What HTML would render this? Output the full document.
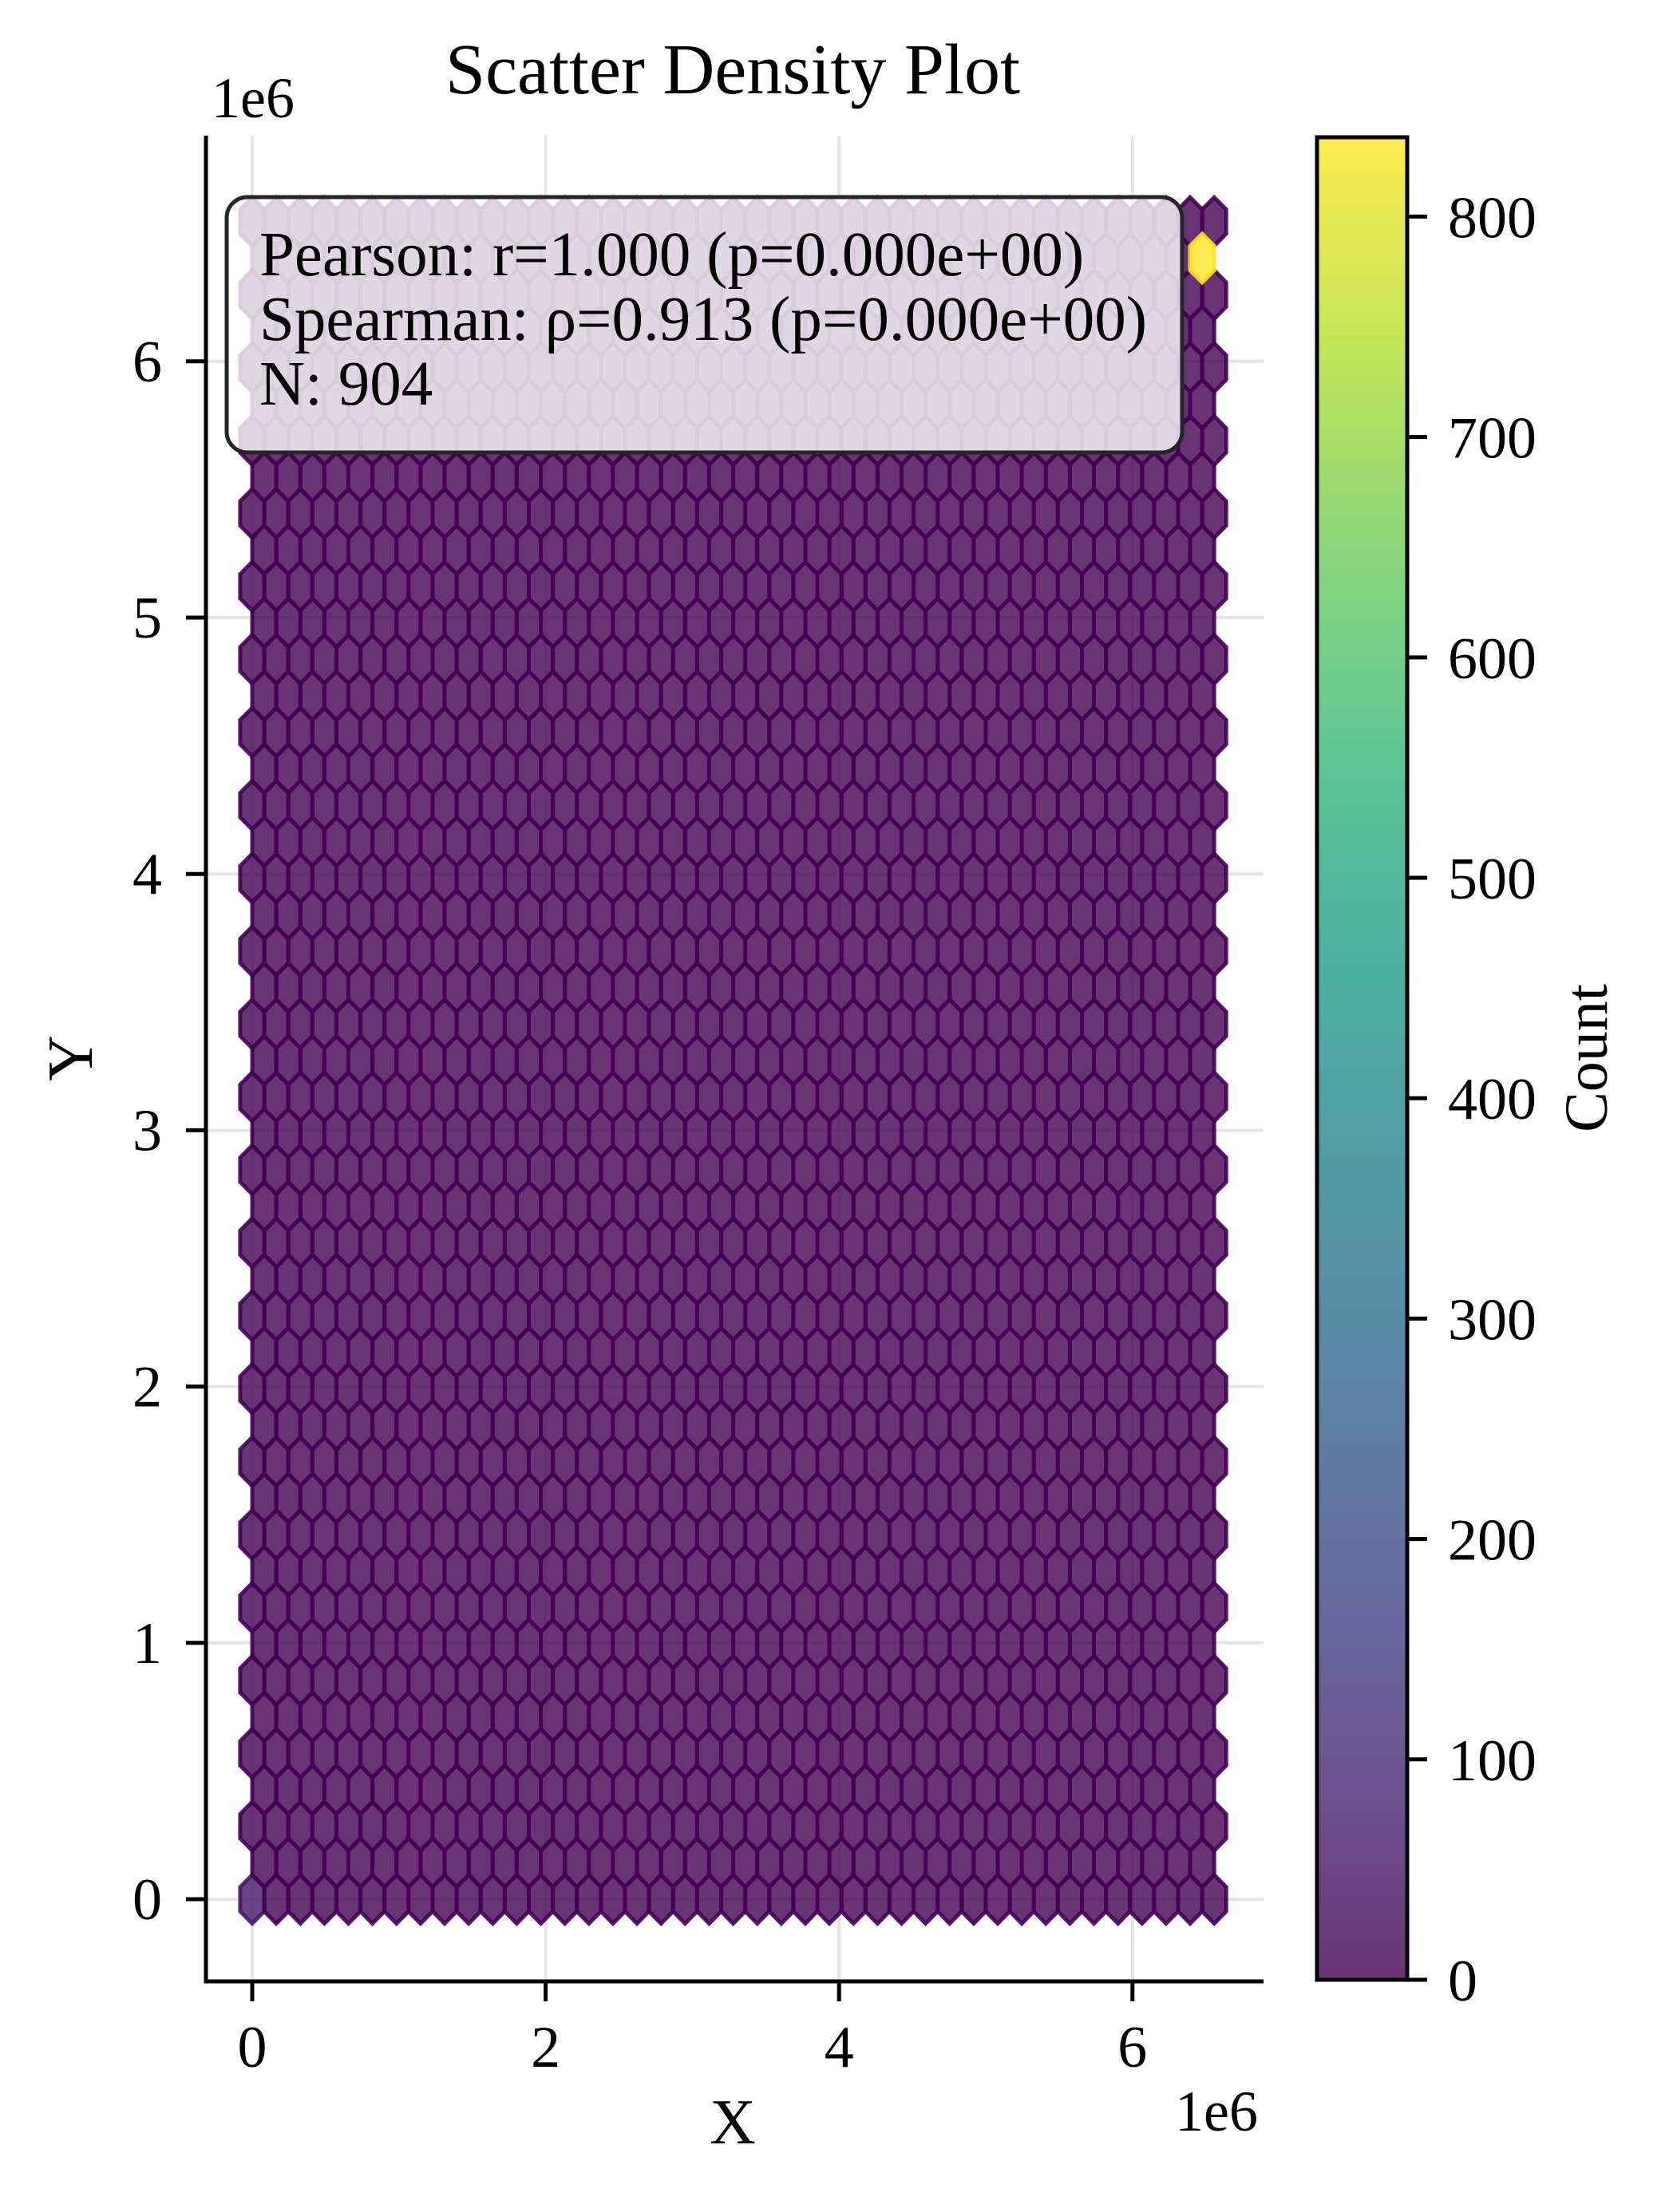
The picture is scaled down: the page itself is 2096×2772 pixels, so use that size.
<!DOCTYPE html>
<html><head><meta charset="utf-8"><style>
html,body{margin:0;padding:0;background:#fff}
svg{display:block}
text{font-family:"Liberation Serif","Times New Roman",serif;fill:#000}
</style></head><body>
<svg id="chart" width="2096" height="2772" viewBox="0 0 2096 2772" xmlns="http://www.w3.org/2000/svg">
<defs><linearGradient id="cbgrad" x1="0" y1="1" x2="0" y2="0"></linearGradient></defs>
<g id="grid"></g>
<g id="hexes"></g>
<g id="axes"></g>
<g id="cbar"></g>
<g id="stats"></g>
</svg>
<script>
// ---- data ----
const xTicks = [0, 2, 4, 6];
const yTicks = [0, 1, 2, 3, 4, 5, 6];
const cbTicks = [0, 100, 200, 300, 400, 500, 600, 700, 800];
const nx = 40;
const ny = 23;
const xMaxData = 6.557;   // 1e6 units
const yMaxData = 6.545;
const cellX = [0, 6.475];
const cellY = [0, 6.40];
const cellCount = [55, 836];
const vMax = 836;
const statLines = ["Pearson: r=1.000 (p=0.000e+00)", "Spearman: ρ=0.913 (p=0.000e+00)", "N: 904"];

// ---- layout ----
const L = 258, R = 1583, T = 170, B = 2483;
const X0 = 316, XS = 183.8;    // px per 1e6
const Y0 = 2380, YS = 321.2;
const sx = xMaxData / nx, sy = yMaxData / ny;
function xp(v){ return X0 + v * XS; }
function yp(v){ return Y0 - v * YS; }
const CB_L = 1650, CB_R = 1763, CB_T = 172, CB_B = 2481;
function cbY(v){ return CB_B - v / vMax * (CB_B - CB_T); }

const vir = [[68,1,84],[72,40,120],[62,73,137],[49,104,142],[38,130,142],[31,158,137],[53,183,121],[109,205,89],[180,222,44],[253,231,37]];
function viridis(t){
  t = Math.max(0, Math.min(1, t));
  const p = t * (vir.length - 1), i = Math.min(vir.length - 2, Math.floor(p)), f = p - i;
  const c = vir[i].map((a, k) => Math.round(a + (vir[i+1][k] - a) * f));
  return `rgb(${c[0]},${c[1]},${c[2]})`;
}
const NS = "http://www.w3.org/2000/svg";
function mk(tag, attrs, parent){
  const e = document.createElementNS(NS, tag);
  for (const k in attrs) e.setAttribute(k, attrs[k]);
  parent.appendChild(e);
  return e;
}
function txt(s, attrs, parent){ const e = mk("text", attrs, parent); e.textContent = s; return e; }

// grid
const grid = document.getElementById("grid");
xTicks.forEach(v => {
  const g = mk("line", {x1: xp(v), x2: xp(v), y1: T, y2: B, stroke: "#e5e5e5", "stroke-width": 4}, grid);
  
  
});
yTicks.forEach(v => {
  const g = mk("line", {x1: L, x2: R, y1: yp(v), y2: yp(v), stroke: "#e5e5e5", "stroke-width": 4}, grid);
  
  
});

// hexes
const hexG = document.getElementById("hexes");
const hw = sx / 2 * XS, h1 = sy / 6 * YS, h2 = sy / 3 * YS;
function countAt(cx, cy){
  let c = 0;
  for (let k = 0; k < cellX.length; k++){
    const d = Math.hypot((cellX[k]-cx)/sx, (cellY[k]-cy)/sy);
    if (d < 0.45) c += cellCount[k];
  }
  return c;
}
function drawHex(cx, cy){
  const px = xp(cx), py = yp(cy);
  const c = countAt(cx, cy);
  const col = viridis(c / vMax);
  const pts = [[px+hw,py+h1],[px+hw,py-h1],[px,py-h2],[px-hw,py-h1],[px-hw,py+h1],[px,py+h2]].map(p => p[0].toFixed(1)+","+p[1].toFixed(1)).join(" ");
  const h = mk("polygon", {points: pts, fill: col, "fill-opacity": 0.8, stroke: col, "stroke-opacity": 0.9, "stroke-width": 5}, hexG);
  
  
}
for (let j = 0; j <= ny; j++) for (let i = 0; i <= nx; i++) drawHex(i * sx, j * sy);
for (let j = 0; j < ny; j++) for (let i = 0; i < nx; i++) drawHex((i + 0.5) * sx, (j + 0.5) * sy);

// axes
const ax = document.getElementById("axes");
let e;
e = mk("line", {x1: L, x2: L, y1: T, y2: B + 2.5, stroke: "#000", "stroke-width": 5}, ax);
 
e = mk("line", {x1: L - 2.5, x2: R, y1: B, y2: B, stroke: "#000", "stroke-width": 5}, ax);
 
xTicks.forEach(v => {
  const t = mk("line", {x1: xp(v), x2: xp(v), y1: B, y2: B + 25, stroke: "#000", "stroke-width": 5}, ax);
   
  const l = txt(String(v), {x: xp(v), y: 2590, "font-size": 74, "text-anchor": "middle"}, ax);
   
});
yTicks.forEach(v => {
  const t = mk("line", {x1: L - 25, x2: L, y1: yp(v), y2: yp(v), stroke: "#000", "stroke-width": 5}, ax);
   
  const l = txt(String(v), {x: 203, y: yp(v) + 25, "font-size": 74, "text-anchor": "end"}, ax);
   
});
e = txt("1e6", {x: 265, y: 147, "font-size": 72}, ax);
 
e = txt("1e6", {x: 1576, y: 2670, "font-size": 72, "text-anchor": "end"}, ax);
 
e = txt("X", {x: 918, y: 2686, "font-size": 80, "text-anchor": "middle"}, ax);
 
e = txt("Y", {x: 0, y: 0, "font-size": 80, "text-anchor": "middle", transform: "translate(115,1326) rotate(-90)"}, ax);
 
e = txt("Scatter Density Plot", {x: 918, y: 117, "font-size": 90, "text-anchor": "middle"}, ax);
 

// colorbar
const grad = document.getElementById("cbgrad");
for (let k = 0; k <= 20; k++) mk("stop", {offset: (k/20), "stop-color": viridis(k/20)}, grad);
const cb = document.getElementById("cbar");
e = mk("rect", {x: CB_L, y: CB_T, width: CB_R - CB_L, height: CB_B - CB_T, fill: "url(#cbgrad)", "fill-opacity": 0.8}, cb);
 
e = mk("rect", {x: CB_L, y: CB_T, width: CB_R - CB_L, height: CB_B - CB_T, fill: "none", stroke: "#000", "stroke-width": 5}, cb);
 
cbTicks.forEach(v => {
  const t = mk("line", {x1: CB_R, x2: CB_R + 25, y1: cbY(v), y2: cbY(v), stroke: "#000", "stroke-width": 5}, cb);
   
  const l = txt(String(v), {x: 1814, y: cbY(v) + 26, "font-size": 74}, cb);
   
});
e = txt("Count", {x: 0, y: 0, "font-size": 76, "text-anchor": "middle", transform: "translate(2013,1326) rotate(-90)"}, cb);
 

// stats box
const st = document.getElementById("stats");
e = mk("rect", {x: 284, y: 247, width: 1197, height: 320, rx: 26, ry: 26, fill: "#fff", "fill-opacity": 0.8, stroke: "#262626", "stroke-width": 5}, st);
 
statLines.forEach((s, k) => {
  const l = txt(s, {x: 325, y: 345 + k * 81, "font-size": 79}, st);
   
});
</script>
</body></html>
